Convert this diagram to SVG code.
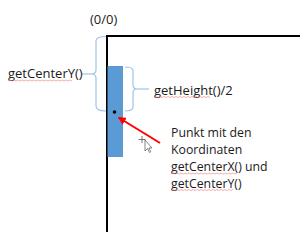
<svg xmlns="http://www.w3.org/2000/svg" width="300" height="232" viewBox="0 0 300 232">
<style>
text{font-family:"Open Sans","Liberation Sans",sans-serif;font-size:13px;fill:#1a1a1a}
.blk{font-size:12.3px}
.brace{fill:none;stroke:#9DC3E6;stroke-width:1.2}
.sq{fill:none;stroke:#F08080;stroke-width:0.8;opacity:0.8}
</style>
<defs>
<marker id="ah" viewBox="0 0 10 10" refX="9" refY="5" markerWidth="4" markerHeight="4" orient="auto" markerUnits="strokeWidth">
<path d="M0,0 L10,5 L0,10 z" fill="#FF0000"/>
</marker>
</defs>
<rect width="300" height="232" fill="#ffffff"/>
<g id="frame">
<path d="M107,232 V36 H300" fill="none" stroke="#000" stroke-width="2"/>
</g>
<g id="origin"><text x="90" y="24">(0/0)</text></g>
<g id="rect">
<rect x="107.5" y="66" width="15.5" height="91" fill="#5B9BD5"/>
</g>
<g id="center-point"><circle cx="114.5" cy="112" r="1.8" fill="#000"/></g>
<g id="cursor">
<path d="M142,136 V143 M138.5,139.5 H145.5" stroke="#555" stroke-width="0.8" fill="none"/>
<path d="M145,140 L145,151 L147.5,148.5 L149.5,152.5 L150.8,151.8 L148.8,148 L152,148 Z" fill="#fff" stroke="#555" stroke-width="0.7"/>
</g>
<g id="connectors">
<path class="brace" d="M106,36.5 Q96,36.5 96,41 L96,70 Q96,74 91,74 Q96,74 96,78 L96,106 Q96,111 106,111"/>
<path class="brace" d="M82,74 H91"/>
<path class="brace" d="M125,67 Q133,67 133,71 L133,85 Q133,89 137,89 Q133,89 133,93 L133,107 Q133,111 125,111"/>
<path class="brace" d="M137,89 H149"/>
<path d="M160,143 L118.5,117.5" stroke="#FF0000" stroke-width="2" fill="none" marker-end="url(#ah)"/>
</g>
<g id="label-centerY">
<text x="8" y="78">getCenterY()</text>
</g>
<g id="label-height">
<text x="154" y="94.5">getHeight()/2</text>
</g>
<g id="label-point">
<text class="blk" x="171" y="137">Punkt mit den</text>
<text class="blk" x="171" y="154">Koordinaten</text>
<text class="blk" x="171" y="171">getCenterX() und</text>
<text class="blk" x="171" y="187.5">getCenterY()</text>
</g>
<g id="spellcheck">
<path class="sq" d="M8,81 l2,-1 l2,1 l2,-1 l2,1 l2,-1 l2,1 l2,-1 l2,1 l2,-1 l2,1 l2,-1 l2,1 l2,-1 l2,1 l2,-1 l2,1 l2,-1 l2,1 l2,-1 l2,1 l2,-1 l2,1 l2,-1 l2,1 l2,-1 l2,1 l2,-1 l2,1 l2,-1 l2,1 l2,-1 l2,1"/>
<path class="sq" d="M154,97.5 l2,-1 l2,1 l2,-1 l2,1 l2,-1 l2,1 l2,-1 l2,1 l2,-1 l2,1 l2,-1 l2,1 l2,-1 l2,1 l2,-1 l2,1 l2,-1 l2,1 l2,-1 l2,1 l2,-1 l2,1 l2,-1 l2,1 l2,-1 l2,1 l2,-1 l2,1"/>
<path class="sq" d="M171,174 l2,-1 l2,1 l2,-1 l2,1 l2,-1 l2,1 l2,-1 l2,1 l2,-1 l2,1 l2,-1 l2,1 l2,-1 l2,1 l2,-1 l2,1 l2,-1 l2,1 l2,-1 l2,1 l2,-1 l2,1 l2,-1 l2,1 l2,-1 l2,1 l2,-1 l2,1 l2,-1 l2,1 l2,-1 l2,1 l2,-1"/>
<path class="sq" d="M171,190.5 l2,-1 l2,1 l2,-1 l2,1 l2,-1 l2,1 l2,-1 l2,1 l2,-1 l2,1 l2,-1 l2,1 l2,-1 l2,1 l2,-1 l2,1 l2,-1 l2,1 l2,-1 l2,1 l2,-1 l2,1 l2,-1 l2,1 l2,-1 l2,1 l2,-1 l2,1 l2,-1 l2,1 l2,-1"/>
</g>
</svg>
